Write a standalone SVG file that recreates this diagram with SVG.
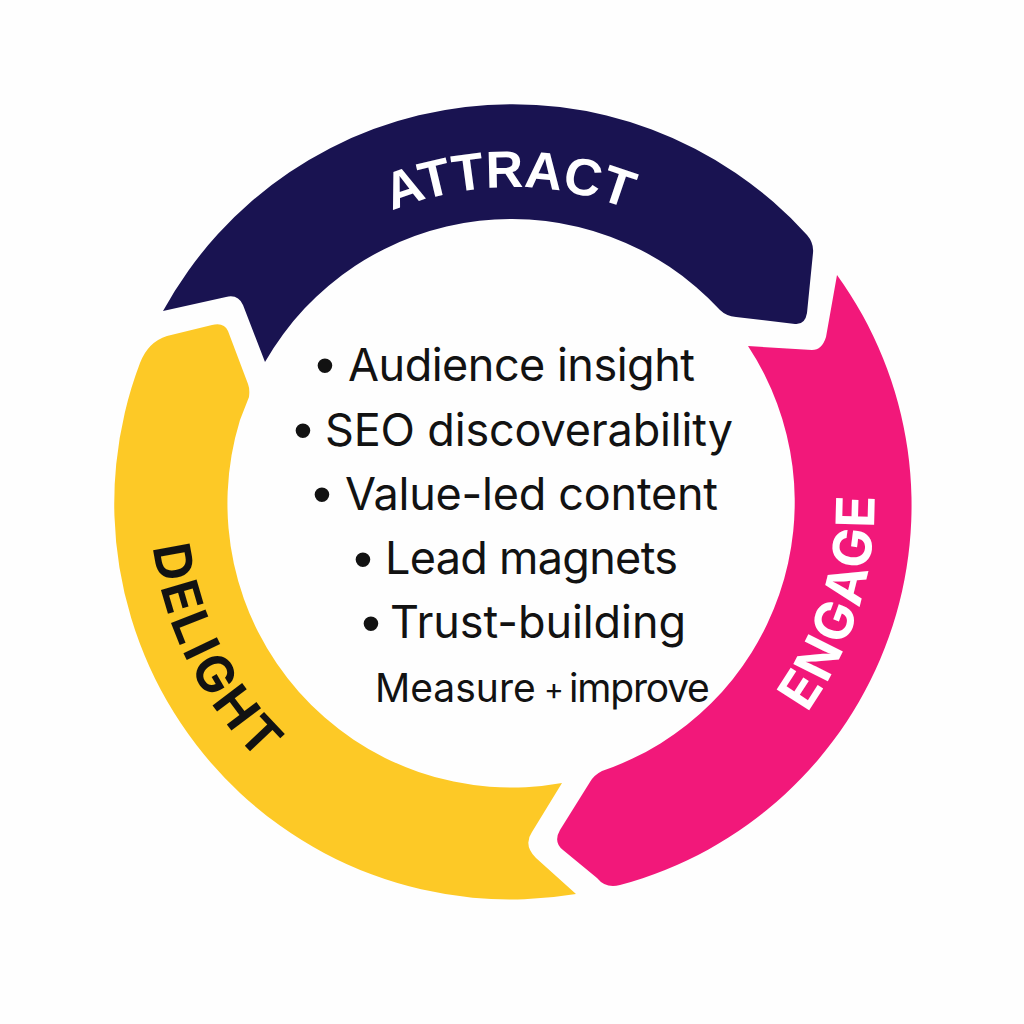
<svg xmlns="http://www.w3.org/2000/svg" width="1024" height="1024" viewBox="0 0 1024 1024">
<style>
.item{font-family:"Inter","Liberation Sans",sans-serif;font-size:45px;fill:#121212}
.bul{font-family:"Liberation Sans",sans-serif;font-size:54px;fill:#121212;text-anchor:middle}
.lab{font-weight:700;font-family:"Liberation Sans",sans-serif}
.lab2{font-weight:700;font-family:"Inter","Liberation Sans",sans-serif}
</style>
<defs>
<path id="arcA" d="M239,345 A315 315 0 0 1 785,345"/>
<path id="arcE" d="M807,713 A362 362 0 0 0 874,485"/>
<path id="arcD" d="M153,547 A362 362 0 0 0 300,795"/>
</defs>
<rect width="1024" height="1024" fill="#fefefe"/>
<g id="connectors"/>
<g id="attract">
<path fill="#191351" d="M163,311 L226,297 Q238,294 243,305 L265,362 A284 284 0 0 1 720,310 Q726,316 736,317 L795,324 Q805,325 807,313 L813,253 Q814,243 807,235 A398 398 0 0 0 163,311 Z"/>
<text class="lab" font-size="52" fill="#fff" letter-spacing="0"><textPath href="#arcA" startOffset="207">ATTRACT</textPath></text>
</g>
<g id="engage">
<path fill="#F2187A" d="M837,275 A393 393 0 0 1 620,885 Q606,889 597,878 L563,850 Q553,842 560,830 L590,782 Q594,775 602,771 A284 284 0 0 0 748,346 L812,350 Q822,350 826,337 Z"/>
<text class="lab2" font-size="53" fill="#fff" letter-spacing="2.2"><textPath href="#arcE">ENGAGE</textPath></text>
</g>
<g id="delight">
<path fill="#FDC926" d="M562,783 A284 284 0 0 1 240,420 L249,397 Q250,389 248,384 L228,331 Q224,322 212,325 L167,336 Q148,342 140,363 A396 396 0 0 0 576,894 L536,858 Q523,845 532,832 Z"/>
<text class="lab2" font-size="51" fill="#121212" letter-spacing="3.6"><textPath href="#arcD">DELIGHT</textPath></text>
</g>
<g id="center-list">
<text class="bul" x="325" y="384">•</text><text class="item" x="348" y="381" textLength="347">Audience insight</text>
<text class="bul" x="303" y="449">•</text><text class="item" x="325" y="446" textLength="408">SEO discoverability</text>
<text class="bul" x="322" y="513">•</text><text class="item" x="345" y="510" textLength="373">Value-led content</text>
<text class="bul" x="363" y="578">•</text><text class="item" x="385" y="574" textLength="293">Lead magnets</text>
<text class="bul" x="371" y="642">•</text><text class="item" x="390" y="638" textLength="296">Trust-building</text>
<text class="item" y="702" style="font-size:39px"><tspan x="375">Measure</tspan><tspan x="544" style="font-size:30px" dy="-2">+</tspan><tspan x="569" dy="2" style="letter-spacing:-1.2px">improve</tspan></text>
</g>
</svg>
